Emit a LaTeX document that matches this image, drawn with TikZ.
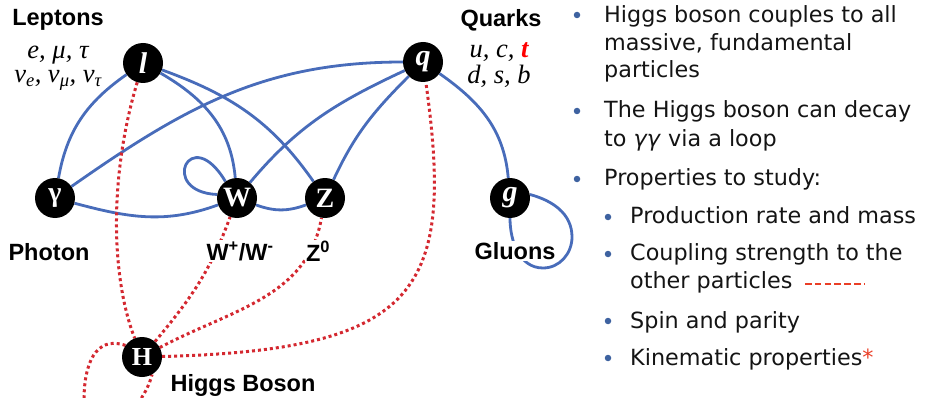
\documentclass[tikz,border=0pt]{standalone}
\usepackage{fontspec}
\setmainfont{Liberation Serif}
\setsansfont{Liberation Sans}
\newfontfamily\bulletfont{DejaVu Sans}
\definecolor{edgeblue}{RGB}{72,108,186}
\definecolor{hred}{RGB}{212,40,48}
\definecolor{dashred}{RGB}{234,62,38}
\definecolor{dotblue}{RGB}{62,98,160}
\definecolor{txt}{RGB}{20,20,20}
\pgfdeclarelayer{bg}
\pgfsetlayers{bg,main}
\begin{document}
\begin{tikzpicture}[x=1pt,y=1pt]
\tikzset{
  particle/.style={circle, fill=black, minimum size=40pt, inner sep=0pt, text=white},
  pbi/.style={particle, font=\bfseries\itshape\fontsize{30}{30}\selectfont},
  pb/.style={particle, font=\bfseries\fontsize{28}{28}\selectfont},
  blueline/.style={edgeblue, line width=2.8pt},
  hline/.style={hred, line width=3pt, dash pattern=on 3pt off 3pt},
  lbl/.style={font=\sffamily\bfseries\fontsize{23.5}{23.5}\selectfont, fill=white, inner sep=1pt},
  ptxt/.style={font=\itshape\fontsize{26.5}{26.5}\selectfont, anchor=base, inner sep=0pt},
  btxt/.style={font=\bulletfont\fontsize{22.3}{27}\selectfont, text=txt, anchor=base west, inner sep=0pt},
  bdot/.style={circle, fill=dotblue, minimum size=6.5pt, inner sep=0pt},
}
\useasboundingbox (0,0) rectangle (925,-398);
\clip (0,0) rectangle (925,-398);

% particles
\node[pbi] (l) at (143,-63) {l};
\node[pb, font=\bfseries\fontsize{28}{28}\selectfont] (gam) at (55,-198) {γ};
\node[pb] (W) at (237,-198) {W};
\node[pb] (Z) at (325,-198) {Z};
\node[pbi] (q) at (423,-62) {q};
\node[pbi] (g) at (510,-198) {g};
\node[pb, font=\bfseries\fontsize{26}{26}\selectfont] (H) at (142,-357) {H};

% labels
\node[lbl] (leptons) at (58,-20) {Leptons};
\node[ptxt] (lep1) at (58,-59) {e, μ, τ};
\node[ptxt] (lep2) at (58,-83) {ν\textsubscript{e}, ν\textsubscript{μ}, ν\textsubscript{τ}};
\node[lbl] (quarks) at (501,-20) {Quarks};
\node[ptxt] (qk1) at (499,-58) {u, c, \textcolor{red}{\bfseries t}};
\node[ptxt] (qk2) at (499,-84) {d, s, b};
\node[lbl] (photon) at (49,-252) {Photon};
\node[lbl] (wlbl) at (240,-251) {W\textsuperscript{+}/W\textsuperscript{-}};
\node[lbl] (zlbl) at (318,-251) {Z\textsuperscript{0}};
\node[lbl] (gluons) at (515,-251) {Gluons};
\node[lbl] (higgs) at (243,-385) {Higgs Boson};

% connectors
\begin{pgfonlayer}{bg}
\draw[blueline] (l) to[out=215,in=80] (gam);
\draw[blueline] (l) to[out=-30,in=95] (W);
\draw[blueline] (l) to[out=-20,in=125] (Z);
\draw[blueline] (gam) to[out=35,in=180] (q);
\draw[blueline] (gam) to[out=-15,in=200] (W);
\draw[blueline] (W) to[out=-20,in=200] (Z);
\draw[blueline] (W) to[out=50,in=205] (q);
\draw[blueline] (Z) to[out=65,in=225] (q);
\draw[blueline] (q) to[out=-35,in=95] (g);
\draw[blueline] (W.170) .. controls (158,-192) and (190,-122) .. (W.125);
\draw[blueline] (g.south) to[out=-90,in=180] (543,-268) to[out=0,in=-90] (572,-237) to[out=90,in=-15] (g.10);

\draw[hline] (l) .. controls (108,-180) and (112,-280) .. (H);
\draw[hline] (H) to[out=50,in=-110] (W);
\draw[hline] (H) to[out=28,in=-100] (Z);
\draw[hline] (H) .. controls (420,-350) and (455,-290) .. (q);
\draw[hline] (H.145) .. controls (95,-335) and (84,-365) .. (84,-400) .. controls (85,-450) and (140,-420) .. (H.-60);
\end{pgfonlayer}

% bullet list
\node[bdot] (d1) at (577,-15) {};
\node[btxt] (b1a) at (604,-23) {Higgs boson couples to all};
\node[btxt] (b1b) at (604,-51) {massive, fundamental};
\node[btxt] (b1c) at (604,-78) {particles};
\node[bdot] (d2) at (577,-111) {};
\node[btxt] (b2a) at (604,-118) {The Higgs boson can decay};
\node[btxt] (b2b) at (604,-147) {to \textit{γγ} via a loop};
\node[bdot] (d3) at (577,-179) {};
\node[btxt] (b3) at (604,-185) {Properties to study:};
\node[bdot] (s1d) at (608,-217) {};
\node[btxt] (s1) at (630,-223) {Production rate and mass};
\node[bdot] (s2d) at (608,-254) {};
\node[btxt] (s2a) at (630,-260) {Coupling strength to the};
\node[btxt] (s2b) at (630,-288) {other particles};
\draw[dashred, line width=2.6pt, dash pattern=on 6.5pt off 3.3pt] (805,-284) -- (864,-284);
\node[bdot] (s3d) at (608,-321) {};
\node[btxt] (s3) at (630,-328) {Spin and parity};
\node[bdot] (s4d) at (608,-358) {};
\node[btxt] (s4) at (630,-365) {Kinematic properties\textcolor{dashred}{*}};
\end{tikzpicture}
\end{document}
